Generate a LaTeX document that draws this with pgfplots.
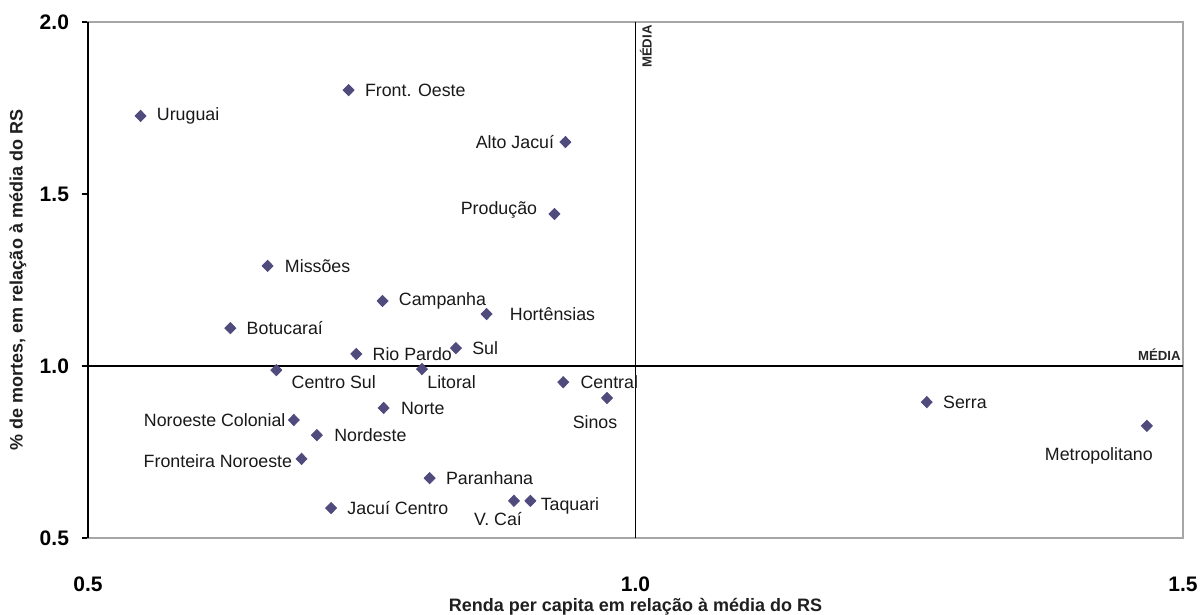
\documentclass[border=0pt]{standalone}
\usepackage{fontspec}
\setmainfont{Liberation Sans}
\usepackage{pgfplots}
\pgfplotsset{compat=1.18}
\definecolor{ptcol}{RGB}{80,75,125}
\definecolor{framegray}{RGB}{166,166,166}
\newcommand{\lbl}{\fontsize{8.9}{10}\selectfont}
\begin{document}
\begin{tikzpicture}
\useasboundingbox (-44pt,-38.5pt) rectangle (556pt,269pt);
\begin{axis}[
    at={(0,0)}, anchor=south west,
    width=547.5pt, height=258pt, scale only axis,
    clip=false,
    xmin=0.5, xmax=1.5, ymin=0.5, ymax=2.0,
    xtick={0.5,1.0,1.5}, ytick={0.5,1.0,1.5,2.0},
    xticklabels={0.5,1.0,1.5},
    yticklabels={0.5,1.0,1.5,2.0},
    tick label style={font=\bfseries\fontsize{10.5}{12}\selectfont, text=black},
    xticklabel style={yshift=-13pt},
    yticklabel style={xshift=-3pt},
    x tick style={draw=none},
    y tick style={black, line width=0.6pt},
    tick align=outside, ytick pos=left,
    major tick length=3pt,
    axis line style={framegray, line width=0.8pt},
    xlabel={Renda per capita em relação à média do RS},
    ylabel={\% de mortes, em relação à média do RS},
    label style={font=\bfseries\fontsize{9}{11}\selectfont, text=black!88},
    xlabel style={at={(axis description cs:0.5,-0.134)}, anchor=center},
    ylabel style={at={(axis description cs:-0.064,0.5)}, anchor=center},
]
% mean lines
\draw[black, line width=0.6pt] (axis cs:1,0.5) -- (axis cs:1,2);
\draw[black, line width=0.6pt] (axis cs:0.5,1) -- (axis cs:1.5,1);
\draw[black, line width=0.7pt] (rel axis cs:0,0) -- (rel axis cs:0,1);
\node[rotate=90, anchor=north east, inner sep=0pt, font=\bfseries\fontsize{6.6}{7}\selectfont, text=black!85]
    at ([xshift=2pt, yshift=-1.5pt]axis cs:1,2) {MÉDIA};
\node[anchor=south east, inner sep=0pt, font=\bfseries\fontsize{6.6}{7}\selectfont, text=black!85]
    at ([xshift=-1pt, yshift=2.5pt]axis cs:1.5,1) {MÉDIA};

\addplot[only marks, mark=diamond*, mark size=2.8pt,
    mark options={ptcol, xscale=1.3}] table {
x y
0.548 1.727
0.738 1.802
0.936 1.651
0.926 1.442
0.664 1.291
0.769 1.189
0.864 1.151
0.630 1.110
0.745 1.035
0.836 1.052
0.672 0.988
0.805 0.991
0.934 0.953
0.974 0.907
0.770 0.878
0.688 0.843
0.709 0.799
0.695 0.730
0.812 0.674
0.904 0.608
0.889 0.608
0.722 0.587
1.266 0.895
1.467 0.826
};

\begin{scope}[every node/.style={font=\lbl, inner sep=0pt, text=black!90}]
\node[anchor=west] at (axis cs:0.548,1.727) [xshift=8pt] {Uruguai};
\node[anchor=west] at (axis cs:0.738,1.802) [xshift=8pt] {Front. Oeste};
\node[anchor=east] at (axis cs:0.936,1.651) [xshift=-5.5pt] {Alto Jacuí};
\node[anchor=east] at (axis cs:0.926,1.442) [xshift=-8.5pt, yshift=2pt] {Produção};
\node[anchor=west] at (axis cs:0.664,1.291) [xshift=8.5pt] {Missões};
\node[anchor=west] at (axis cs:0.769,1.189) [xshift=8pt] {Campanha};
\node[anchor=west] at (axis cs:0.864,1.151) [xshift=11.5pt] {Hortênsias};
\node[anchor=west] at (axis cs:0.630,1.110) [xshift=8pt] {Botucaraí};
\node[anchor=west] at (axis cs:0.745,1.035) [xshift=8pt] {Rio Pardo};
\node[anchor=west] at (axis cs:0.836,1.052) [xshift=8pt] {Sul};
\node[anchor=west] at (axis cs:0.672,0.988) [xshift=7.5pt, yshift=-6pt] {Centro Sul};
\node[anchor=west] at (axis cs:0.805,0.991) [xshift=2.5pt, yshift=-6.5pt] {Litoral};
\node[anchor=west] at (axis cs:0.934,0.953) [xshift=8.5pt] {Central};
\node[anchor=center] at (axis cs:0.974,0.907) [xshift=-6pt, yshift=-12pt] {Sinos};
\node[anchor=west] at (axis cs:0.770,0.878) [xshift=8.5pt] {Norte};
\node[anchor=east] at (axis cs:0.688,0.843) [xshift=-4pt] {Noroeste Colonial};
\node[anchor=west] at (axis cs:0.709,0.799) [xshift=8.5pt] {Nordeste};
\node[anchor=east] at (axis cs:0.695,0.730) [xshift=-4.5pt, yshift=-1pt] {Fronteira Noroeste};
\node[anchor=west] at (axis cs:0.812,0.674) [xshift=8pt] {Paranhana};
\node[anchor=west] at (axis cs:0.904,0.608) [xshift=5pt, yshift=-2.5pt] {Taquari};
\node[anchor=center] at (axis cs:0.889,0.608) [xshift=-8pt, yshift=-9pt] {V. Caí};
\node[anchor=west] at (axis cs:0.722,0.587) [xshift=8pt] {Jacuí Centro};
\node[anchor=west] at (axis cs:1.266,0.895) [xshift=8pt] {Serra};
\node[anchor=center] at (axis cs:1.467,0.826) [xshift=-24pt, yshift=-15pt] {Metropolitano};
\end{scope}
\end{axis}
\end{tikzpicture}
\end{document}
